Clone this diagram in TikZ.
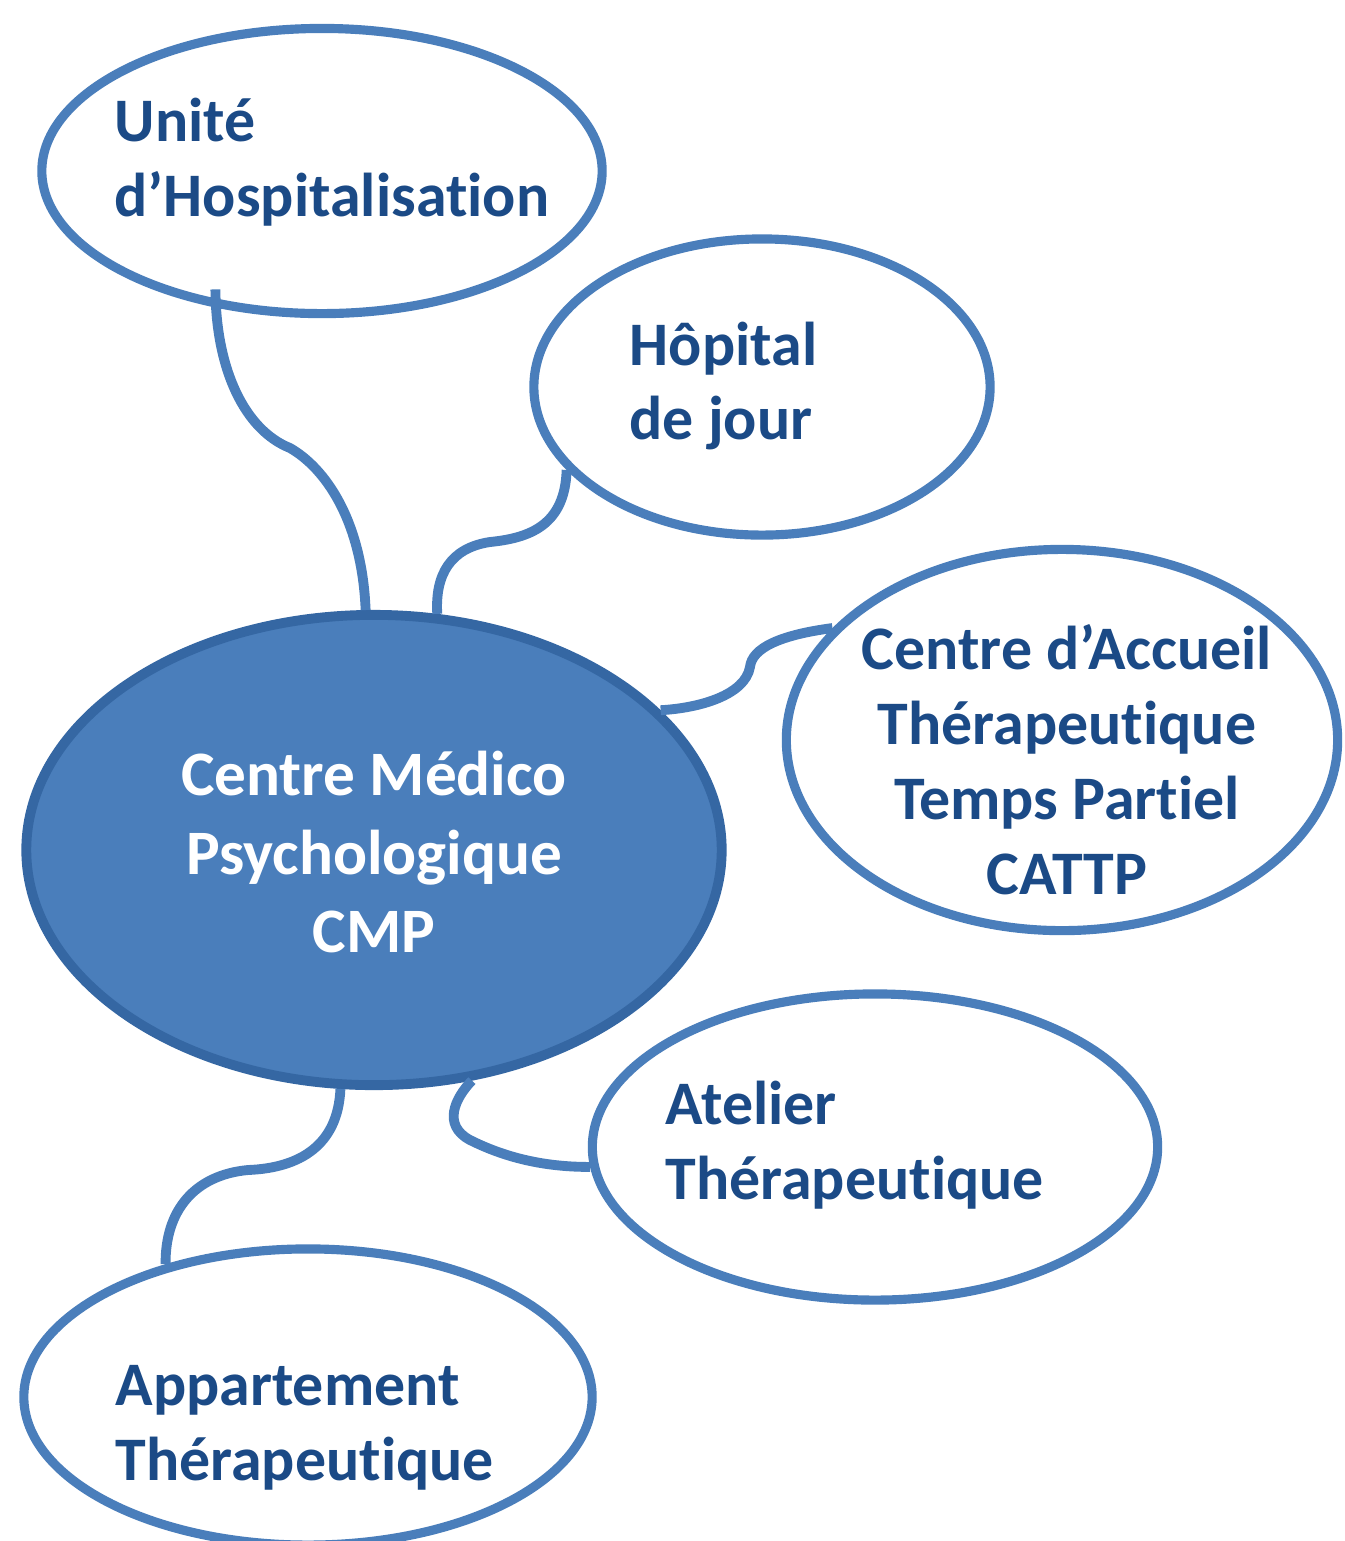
\documentclass[tikz,border=0pt]{standalone}
\usepackage{fontspec}
\setmainfont{Carlito}[RawFeature={-liga}]
\usetikzlibrary{shapes.geometric, calc}
\definecolor{ringblue}{HTML}{4A7EBB}
\definecolor{hubedge}{HTML}{3567A3}
\definecolor{inkblue}{HTML}{1B4A86}
\tikzstyle{bubble}=[draw=ringblue,line width=2.6pt,fill=white,ellipse,inner sep=0pt]
\tikzstyle{hub}=[draw=hubedge,line width=2.8pt,fill=ringblue,ellipse,inner sep=0pt]
\tikzstyle{lbl}=[inner sep=0pt,text=inkblue,font=\bfseries\fontsize{17.6}{21.3}\selectfont]
\tikzstyle{link}=[draw=ringblue,line width=2.8pt]

\begin{document}
\begin{tikzpicture}[x=0.01cm,y=-0.01cm]
    \useasboundingbox (0,0) rectangle (1344,1541);
    % bubbles
    \node[bubble, minimum width=5.60cm, minimum height=2.85cm] (unite) at (322,171) {};
    \node[bubble, minimum width=4.56cm, minimum height=2.96cm] (hopital) at (762,387) {};
    \node[bubble, minimum width=5.51cm, minimum height=3.81cm] (cattp) at (1062,740) {};
    \node[bubble, minimum width=5.65cm, minimum height=3.06cm] (atelier) at (875,1147) {};
    \node[bubble, minimum width=5.68cm, minimum height=2.96cm] (appart) at (308,1397) {};
    \node[hub, minimum width=6.95cm, minimum height=4.70cm] (cmp) at (374,850) {};
    % links
    \draw[link] ([yshift=0.18cm]unite.-128) .. controls (216,370) and (245,430) .. (290,448)
        .. controls (325,468) and (362,520) .. (cmp.92);
    \draw[link] (hopital.203) .. controls (565,525) and (530,538) .. (490,542)
        .. controls (450,548) and (435,575) .. (cmp.75);
    \draw[link] (cattp.154) .. controls (780,635) and (752,648) .. (750,667)
        .. controls (745,695) and (700,708) .. (cmp.26);
    \draw[link] (cmp.-98) .. controls (338,1145) and (300,1168) .. (248,1170)
        .. controls (195,1175) and (165,1210) .. (appart.137);
    \draw[link] (cmp.-67) .. controls (455,1098) and (442,1125) .. (470,1140)
        .. controls (510,1160) and (550,1167) .. (atelier.184);
    % texts
    \node[lbl, anchor=west, align=left] (unite-t) at (114,162) {Unité\\d’Hospitalisation};
    \node[lbl, anchor=west, align=left] (hopital-t) at (629,386) {Hôpital\\de jour};
    \node[lbl, align=center] (cattp-t) at (1067,760) {Centre d’Accueil\\Thérapeutique\\Temps Partiel\\CATTP};
    \node[lbl, anchor=west, align=left] (atelier-t) at (665,1145) {Atelier\\Thérapeutique};
    \node[lbl, anchor=west, align=left] (appart-t) at (115,1428) {Appartement\\Thérapeutique};
    \node[lbl, text=white, align=center, font=\bfseries\fontsize{18}{22.2}\selectfont] (cmp-t) at (374,852)
        {Centre Médico\\Psychologique\\CMP};
\end{tikzpicture}
\end{document}
